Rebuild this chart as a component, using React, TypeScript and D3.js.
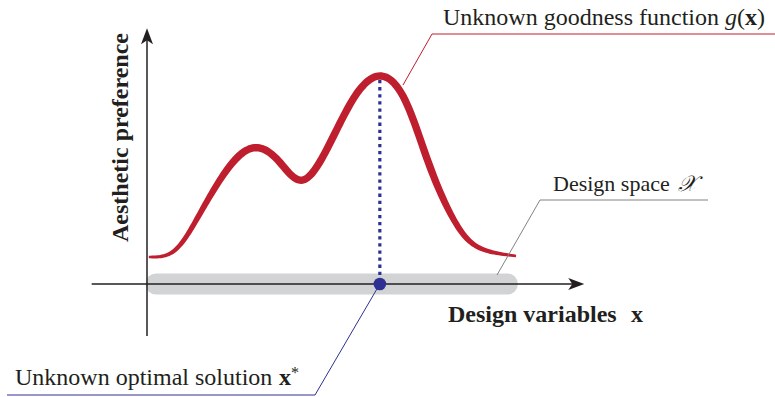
import React, { useMemo } from "react";
import * as d3 from "d3";

const WIDTH = 775;
const HEIGHT = 397;

// design variable x (0..100 spans the design space)
const designX = [0.5, 7.6, 14.4, 21.7, 28.7, 35.5, 42.3, 49.6, 56.4, 63.1, 69.9, 76.7, 83.5, 90.2, 100];
// unknown goodness g(x), peak = 1
const goodness = [0.13, 0.163, 0.34, 0.55, 0.654, 0.595, 0.5, 0.678, 0.904, 1.0, 0.885, 0.563, 0.298, 0.173, 0.135];

const optimumX = 63.1;
const designSpace = [-0.4, 100.5];
const xAxisExtent = [-15, 118.5];
const yAxisExtent = [-0.25, 1.23];

const RED = "#be1e2d";
const BLUE = "#2e3192";
const GREY_BAND = "#d1d3d4";
const INK = "#231f20";
const SERIF = "'Liberation Serif', 'Times New Roman', serif";

// build a filled ribbon that follows the smoothed curve, with a tapered width
function ribbonPath(pts: [number, number][], widthAt: (u: number) => number) {
  const segs: number[][] = [];
  let cx = 0;
  let cy = 0;
  const ctx: any = {
    moveTo(x: number, y: number) { cx = x; cy = y; },
    lineTo(x: number, y: number) { segs.push([cx, cy, cx, cy, x, y, x, y]); cx = x; cy = y; },
    bezierCurveTo(x1: number, y1: number, x2: number, y2: number, x: number, y: number) {
      segs.push([cx, cy, x1, y1, x2, y2, x, y]); cx = x; cy = y;
    },
    closePath() {},
  };
  d3.line().curve(d3.curveNatural).context(ctx)(pts);

  const samples: [number, number][] = [];
  segs.forEach((s, i) => {
    for (let k = i === 0 ? 0 : 1; k <= 16; k++) {
      const t = k / 16, mt = 1 - t;
      const a = mt * mt * mt, b = 3 * mt * mt * t, c = 3 * mt * t * t, d = t * t * t;
      samples.push([a * s[0] + b * s[2] + c * s[4] + d * s[6], a * s[1] + b * s[3] + c * s[5] + d * s[7]]);
    }
  });

  const x0 = samples[0][0];
  const x1 = samples[samples.length - 1][0];
  const left: number[][] = [];
  const right: number[][] = [];
  samples.forEach((p, i) => {
    const prev = samples[Math.max(0, i - 1)];
    const next = samples[Math.min(samples.length - 1, i + 1)];
    const dx = next[0] - prev[0];
    const dy = next[1] - prev[1];
    const len = Math.hypot(dx, dy) || 1;
    const nx = -dy / len, ny = dx / len;
    const w = widthAt((p[0] - x0) / (x1 - x0)) / 2;
    left.push([p[0] + nx * w, p[1] + ny * w]);
    right.push([p[0] - nx * w, p[1] - ny * w]);
  });
  const fmt = (p: number[]) => `${p[0].toFixed(2)},${p[1].toFixed(2)}`;
  return "M" + left.map(fmt).join("L") + "L" + right.reverse().map(fmt).join("L") + "Z";
}

const App = () => {
  const xScale = useMemo(() => d3.scaleLinear().domain([0, 100]).range([147, 516]), []);
  const yScale = useMemo(() => d3.scaleLinear().domain([0, 1]).range([284, 76]), []);

  const curve = useMemo(() => {
    const pts = designX.map((x, i) => [xScale(x), yScale(goodness[i])] as [number, number]);
    return ribbonPath(pts, (u) => 2.6 + 4.8 * Math.min(1, 1.5 * Math.sin(Math.PI * u)));
  }, [xScale, yScale]);

  const axisY = yScale(0);
  const axisX = xScale(0);
  const xa0 = xScale(xAxisExtent[0]);
  const xa1 = xScale(xAxisExtent[1]);
  const ya0 = yScale(yAxisExtent[0]);
  const ya1 = yScale(yAxisExtent[1]);

  const optX = xScale(optimumX);
  const optTop = yScale(d3.max(goodness) as number) + 4;

  const bandX0 = xScale(designSpace[0]);
  const bandX1 = xScale(designSpace[1]);

  return (
    <svg
      width={WIDTH}
      height={HEIGHT}
      style={{ position: "absolute", left: 0, top: 0, background: "#fff", fontFamily: SERIF }}
    >
      {/* design space band */}
      <rect x={bandX0} y={axisY - 10.5} width={bandX1 - bandX0} height={21} rx={10.5} fill={GREY_BAND} />

      {/* axes */}
      <line x1={xa0} x2={xa1 - 10} y1={axisY} y2={axisY} stroke={INK} strokeWidth={1.5} />
      <path d={`M${xa1},${axisY} L${xa1 - 16},${axisY - 6} L${xa1 - 12},${axisY} L${xa1 - 16},${axisY + 6} Z`} fill={INK} />
      <line x1={axisX} x2={axisX} y1={ya0} y2={ya1 + 10} stroke={INK} strokeWidth={1.5} />
      <path d={`M${axisX},${ya1} L${axisX - 6},${ya1 + 16} L${axisX},${ya1 + 12} L${axisX + 6},${ya1 + 16} Z`} fill={INK} />

      {/* goodness curve */}
      <path d={curve} fill={RED} />

      {/* optimum */}
      <line x1={optX} x2={optX} y1={optTop} y2={axisY} stroke={BLUE} strokeWidth={3.2} strokeDasharray="3.3 3.8" />

      {/* leader lines */}
      <polyline points={`775,34 432,34 403,85`} fill="none" stroke={RED} strokeWidth={1} />
      <polyline points={`708,200 540,200 497,275`} fill="none" stroke="#808285" strokeWidth={1} />
      <polyline points={`${optX},${axisY} 315,395 7,395`} fill="none" stroke={BLUE} strokeWidth={1} />

      <circle cx={optX} cy={axisY} r={6.3} fill={BLUE} />

      {/* labels */}
      <text x={443} y={25} fontSize={24} fill={INK}>
        Unknown goodness function
        <tspan x={725} fontStyle="italic">g</tspan>
        <tspan>(</tspan>
        <tspan fontWeight="bold">x</tspan>
        <tspan>)</tspan>
      </text>

      <text x={553} y={191} fontSize={22} fill={INK}>
        Design space
        <tspan x={678} fontStyle="italic">𝒳</tspan>
      </text>

      <text x={448} y={322} fontSize={24} fontWeight="bold" fill={INK}>
        Design variables
        <tspan x={631}>x</tspan>
      </text>

      <text transform="translate(128,137.5) rotate(-90)" textAnchor="middle" fontSize={24} fontWeight="bold" fill={INK}>
        Aesthetic preference
      </text>

      <text x={15} y={385} fontSize={24} fill={INK}>
        Unknown optimal solution
        <tspan x={279} fontWeight="bold">x</tspan>
        <tspan fontSize={16} dy={-7}>*</tspan>
      </text>
    </svg>
  );
};

export default App;
